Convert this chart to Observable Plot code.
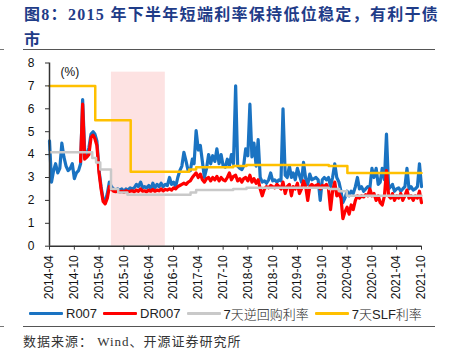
<!DOCTYPE html>
<html><head><meta charset="utf-8">
<script src="https://cdn.jsdelivr.net/npm/d3@7"></script>
<script src="https://cdn.jsdelivr.net/npm/@observablehq/plot@0.6"></script>
<style>
body{margin:0;background:#fff;}
#wrap{position:relative;width:449px;height:357px;overflow:hidden;font-family:"Liberation Sans",Arial,"Noto Sans CJK SC",sans-serif;background:#fff;}
#title{position:absolute;left:24px;top:2px;font-family:"Liberation Serif","Noto Sans CJK SC",serif;font-weight:bold;font-size:16px;letter-spacing:1.3px;line-height:25px;color:#1F3C88;white-space:nowrap;}
.rule{position:absolute;left:23px;width:412px;height:0;border-top:1.5px solid #555;}
.nub{position:absolute;left:0;width:4px;height:0;border-top:1px solid #777;}
#chart{position:absolute;left:0;top:55px;}
#legend{position:absolute;left:29px;top:305px;height:16px;display:flex;align-items:center;font-size:13px;color:#222;white-space:nowrap;}
#legend .sw{display:inline-block;width:34px;height:3px;margin-right:3px;border-radius:1px;}
#legend .it{display:flex;align-items:center;margin-right:6px;}
#legend .cn{font-family:"Liberation Sans","Noto Sans CJK SC",sans-serif;font-weight:300;}
#source{position:absolute;left:23px;top:331px;font-family:"Liberation Serif","Noto Sans CJK SC",serif;font-size:13px;letter-spacing:1px;color:#333;white-space:nowrap;}
</style></head><body>
<div id="wrap">
  <div id="title">图8：2015 年下半年短端利率保持低位稳定，有利于债<br>市</div>
  <div class="rule" style="top:49px"></div>
  <div class="nub" style="top:49px"></div>
  <div id="chart"></div>
  <div id="legend"></div>
  <div class="rule" style="top:326px"></div>
  <div class="nub" style="top:326px"></div>
  <div id="source">数据来源：&nbsp;Wind、开源证券研究所</div>
</div>
<script>
// ---- data (semi-monthly readings starting 2014-04-01) ----
const seriesNames = ["R007", "DR007", "7天逆回购利率", "7天SLF利率"];
const seriesColors = ["#1A73C2", "#FF0000", "#C9C9C9", "#FFC000"];

const r007 = [
  4.6, 2.8, 3.3, 3.6, 3.2, 3.4, 4.5, 3.9, 3.5, 3.3,
  3.4, 3.6, 2.95, 3.2, 3.3, 3.6, 6.4, 4.2, 3.9, 4.3,
  4.9, 5.0, 4.9, 4.6, 3.3, 2.6, 2.05, 1.95, 2.3, 2.8,
  2.6, 2.5, 2.45, 2.5, 2.45, 2.5, 2.4, 2.5, 2.45, 2.55,
  2.5, 2.55, 2.7, 2.6, 2.8, 2.55, 2.6, 2.55, 2.65, 2.5,
  2.75, 2.55, 2.7, 2.6, 2.75, 2.6, 2.7, 2.65, 3.0, 2.7,
  2.8, 2.6, 3.0, 3.3, 3.5, 4.1, 3.7, 3.3, 3.3, 3.8,
  3.6, 5.05, 4.2, 4.4, 3.7, 3.0, 3.4, 4.0, 3.6, 3.95,
  3.7, 4.25, 3.6, 4.0, 3.5, 3.45, 3.8, 3.5, 4.0, 3.6,
  7.0, 3.5, 3.4, 3.35, 3.5, 4.25, 3.95, 6.2, 3.9, 4.5,
  3.5, 4.65, 3.0, 2.8, 2.85, 2.75, 2.9, 3.2, 2.85, 2.9,
  2.8, 2.9, 2.85, 6.0, 3.1, 3.0, 3.5, 3.0, 3.2, 2.9,
  3.4, 3.1, 2.8, 3.66, 2.95, 2.7, 3.15, 2.9, 2.95, 3.0,
  2.9, 2.0, 2.9, 3.0, 2.9, 3.0, 2.6, 3.0, 3.6, 3.0,
  2.8, 2.4, 1.9, 2.1, 2.4, 2.2, 2.4, 2.3, 2.6, 3.0,
  2.5, 2.6, 2.4, 2.5, 2.6, 2.55, 3.4, 3.0, 3.4, 2.7,
  2.8, 3.4, 2.9, 4.9, 2.5, 2.6, 2.7, 2.4, 2.5, 2.55,
  2.4, 2.5, 2.6, 3.4, 2.5, 2.6, 2.45, 2.5, 2.6, 3.6,
  2.6
];

const dr007Start = 15; // DR007 begins in Dec 2014
const dr007 = [
  3.7, 6.2, 3.8, 3.9, 4.0,
  4.75, 4.85, 4.7, 4.4, 3.2, 2.5, 1.95, 1.85, 2.1, 2.6,
  2.5, 2.4, 2.38, 2.42, 2.37, 2.4, 2.35, 2.42, 2.38, 2.4,
  2.42, 2.38, 2.45, 2.4, 2.5, 2.4, 2.42, 2.38, 2.45, 2.4,
  2.48, 2.4, 2.45, 2.42, 2.5, 2.42, 2.48, 2.45, 2.5, 2.45,
  2.55, 2.5, 2.6, 2.65, 2.7, 2.75, 2.7, 2.8, 2.85, 3.0,
  3.1, 3.2, 3.0, 3.15, 2.9, 2.8, 2.95, 3.0, 2.85, 3.0,
  2.9, 3.05, 2.85, 3.0, 2.9, 2.85, 3.0, 3.2, 2.9, 3.05,
  3.1, 2.85, 2.95, 2.8, 2.95, 3.0, 2.85, 3.1, 2.8, 2.95,
  2.75, 2.9, 2.5, 2.2, 2.5, 2.6, 2.55, 2.65, 2.6, 2.55,
  2.7, 2.6, 2.5, 2.8, 2.3, 2.6, 2.7, 2.2, 2.6, 2.5,
  2.75, 2.3, 2.5, 2.85, 2.6, 2.0, 2.6, 2.7, 2.6, 2.65,
  2.7, 2.5, 2.65, 2.6, 2.7, 2.5, 1.6, 2.4, 2.8, 2.2,
  2.3, 2.1, 1.2, 1.5, 1.7, 1.4, 1.8, 1.6, 2.0, 2.2,
  2.1, 2.2, 2.15, 2.25, 2.2, 2.5, 2.2, 2.3, 2.0, 2.2,
  1.9, 1.8, 2.2, 3.3, 2.2, 2.1, 2.3, 2.0, 2.2, 2.1,
  2.3, 2.0, 2.2, 2.45, 2.1, 2.2, 2.0, 2.2, 2.1, 2.4,
  1.9
];

const repoDates = ["2014-04-01","2015-02-10","2015-03-10","2015-04-10","2015-06-28","2015-08-20","2015-10-27","2017-02-03","2017-03-16","2017-12-14","2018-03-22","2019-11-18","2020-02-03","2020-03-30","2021-10-01"];
const repoRates = [4.1, 3.85, 3.65, 3.35, 2.5, 2.35, 2.25, 2.35, 2.45, 2.5, 2.55, 2.5, 2.4, 2.2, 2.2];

const slfDates = ["2014-04-01","2015-03-04","2015-11-20","2017-01-24","2017-03-16","2017-12-14","2018-03-22","2019-11-18","2020-04-03","2021-10-01"];
const slfRates = [7.0, 5.5, 3.25, 3.35, 3.45, 3.5, 3.55, 3.5, 3.2, 3.2];

const xTickLabels = ["2014-04","2014-10","2015-04","2015-10","2016-04","2016-10","2017-04","2017-10","2018-04","2018-10","2019-04","2019-10","2020-04","2020-10","2021-04","2021-10"];
const yTicks = [0, 1, 2, 3, 4, 5, 6, 7, 8];
const shadeRange = ["2015-07-01", "2016-08-01"];
const shadeTop = 7.6;

// ---- build ----
const toDate = s => new Date((s.length === 7 ? s + "-01" : s) + "T00:00:00Z");
const rows = r007.map((v, i) => ({
  date: new Date(Date.UTC(2014, 3 + Math.floor(i / 2), i % 2 ? 16 : 1)),
  r: v,
  dr: i >= dr007Start ? dr007[i - dr007Start] : null
}));
const drRows = rows.filter(d => d.dr != null);
const repo = repoDates.map((d, i) => ({date: toDate(d), v: repoRates[i]}));
const slf = slfDates.map((d, i) => ({date: toDate(d), v: slfRates[i]}));
const xTicks = xTickLabels.map(toDate);
const x0 = toDate(xTickLabels[0]), x1 = toDate(xTickLabels[xTickLabels.length - 1]);

const chart = Plot.plot({
  width: 449, height: 250,
  marginLeft: 49, marginRight: 28, marginTop: 7.5, marginBottom: 59.3,
  style: {fontFamily: "'Liberation Sans', Arial, sans-serif", fontSize: "12px", color: "#111", background: "transparent", overflow: "visible"},
  x: {type: "utc", domain: [x0, x1], label: null},
  y: {domain: [0, 8], label: null},
  marks: [
    Plot.rect([{a: toDate(shadeRange[0]), b: toDate(shadeRange[1])}], {x1: "a", x2: "b", y1: 0, y2: shadeTop, fill: "#FDE2E2"}),
    Plot.line(rows, {x: "date", y: "r", stroke: seriesColors[0], strokeWidth: 3.2, strokeLinejoin: "round"}),
    Plot.line(drRows, {x: "date", y: "dr", stroke: seriesColors[1], strokeWidth: 3.2, strokeLinejoin: "round"}),
    Plot.line(repo, {x: "date", y: "v", curve: "step-after", stroke: seriesColors[2], strokeWidth: 2.5}),
    Plot.line(slf, {x: "date", y: "v", curve: "step-after", stroke: seriesColors[3], strokeWidth: 2.5}),
    Plot.ruleY([0], {stroke: "#333", strokeWidth: 1.5}),
    Plot.ruleX([x0], {y1: 0, y2: 8, stroke: "#333", strokeWidth: 1.5}),
    Plot.axisY(yTicks, {tickSize: 4, tickPadding: 11, fontSize: 12, stroke: "#333"}),
    Plot.axisX(xTicks, {tickFormat: d3.utcFormat("%Y-%m"), tickRotate: -90, tickSize: 4, tickPadding: 5, fontSize: 12, stroke: "#333"}),
    Plot.text(["(%)"], {frameAnchor: "top-left", dx: 11, dy: 4, textAnchor: "start", fontSize: 12})
  ]
});
document.getElementById("chart").appendChild(chart);

// legend
const lg = document.getElementById("legend");
seriesNames.forEach((n, i) => {
  const it = document.createElement("div");
  it.className = "it";
  const sw = document.createElement("span");
  sw.className = "sw";
  sw.style.background = seriesColors[i];
  const tx = document.createElement("span");
  tx.textContent = n;
  if (/[\u4e00-\u9fff]/.test(n)) tx.className = "cn";
  it.appendChild(sw); it.appendChild(tx);
  lg.appendChild(it);
});
</script>
</body></html>
